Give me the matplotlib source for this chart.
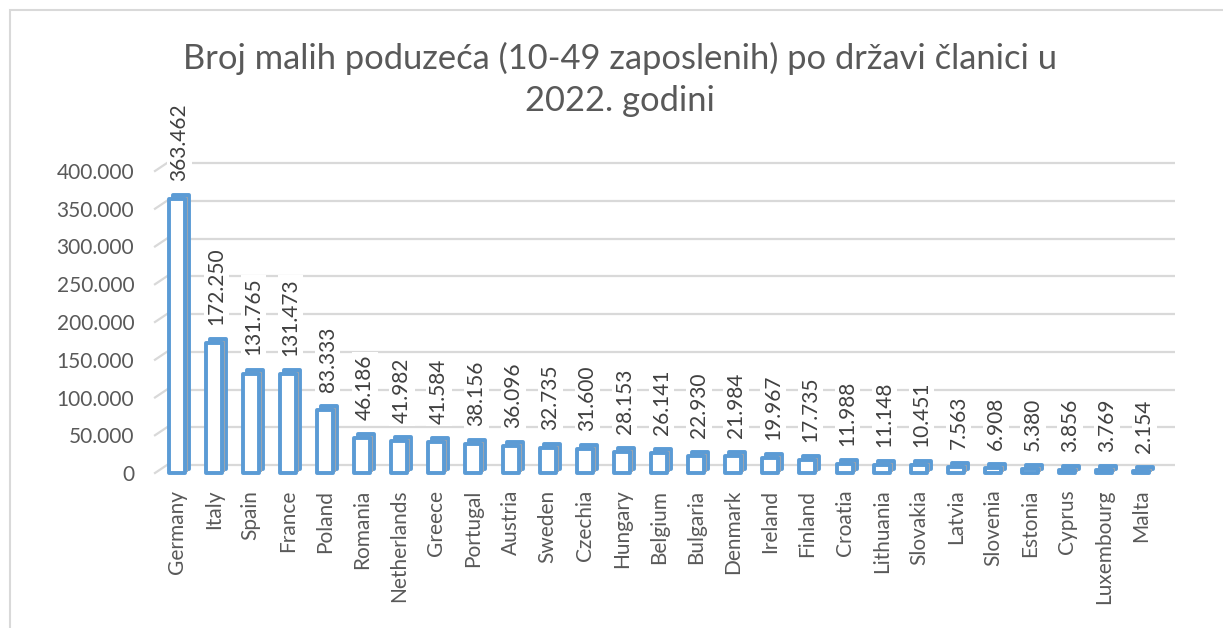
import matplotlib
matplotlib.use('Agg')
import matplotlib.pyplot as plt
from matplotlib.transforms import ScaledTranslation, IdentityTransform
from matplotlib.patches import Rectangle
from matplotlib.lines import Line2D

countries = ["Germany", "Italy", "Spain", "France", "Poland", "Romania", "Netherlands",
             "Greece", "Portugal", "Austria", "Sweden", "Czechia", "Hungary", "Belgium",
             "Bulgaria", "Denmark", "Ireland", "Finland", "Croatia", "Lithuania", "Slovakia",
             "Latvia", "Slovenia", "Estonia", "Cyprus", "Luxembourg", "Malta"]
values = [363462, 172250, 131765, 131473, 83333, 46186, 41982, 41584, 38156, 36096,
          32735, 31600, 28153, 26141, 22930, 21984, 19967, 17735, 11988, 11148, 10451,
          7563, 6908, 5380, 3856, 3769, 2154]
yticks = [0, 50000, 100000, 150000, 200000, 250000, 300000, 350000, 400000]
title = "Broj malih poduzeća (10-49 zaposlenih) po državi članici u\n2022. godini"

plt.rcParams['font.family'] = ['Lato', 'DejaVu Sans']

def fmt(v):
    return f"{v:,}".replace(",", ".")

W, H, DPI = 1223, 628, 100
fig = plt.figure(figsize=(W / DPI, H / DPI), dpi=DPI)
fig.patch.set_facecolor('white')

# outer chart border (extends past right/bottom edge as in the reference)
fig.patches.append(Rectangle((10 / W, -20 / H), 1240 / W, (H - 10 + 20) / H,
                             transform=fig.transFigure, fill=False,
                             edgecolor='#D9D9D9', linewidth=1.5))

def px(x0, y0, x1, y1):
    return [x0 / W, 1 - y1 / H, (x1 - x0) / W, (y1 - y0) / H]

ax = fig.add_axes(px(155, 171, 1163, 473))
ax.set_xlim(-0.58, len(countries) - 1 + 0.58)
ax.set_ylim(0, 400000)
for s in ax.spines.values():
    s.set_visible(False)
ax.patch.set_alpha(0)

# back-wall gridlines (3D offset)
back = ScaledTranslation(12 / DPI, 8 / DPI, fig.dpi_scale_trans)
ax.hlines(yticks, 0, 1, transform=ax.get_yaxis_transform() + back,
          color='#D9D9D9', linewidth=1.6, zorder=0, clip_on=False)
# slanted side-wall segments
for v in yticks:
    x0, y0 = ax.get_yaxis_transform().transform((0, v))
    ln = Line2D([x0, x0 + 12], [y0, y0 + 8], transform=IdentityTransform(),
                color='#D9D9D9', linewidth=1.6, zorder=0)
    fig.add_artist(ln)

x = list(range(len(countries)))
bw = 0.43
blue = '#5B9BD5'
depth = ScaledTranslation(4 / DPI, 4 / DPI, fig.dpi_scale_trans)
mid = ScaledTranslation(2 / DPI, 2 / DPI, fig.dpi_scale_trans)
ax.bar(x, values, width=bw, transform=ax.transData + depth,
       facecolor=blue, edgecolor=blue, linewidth=2.8, zorder=2,
       joinstyle='round', clip_on=False)
ax.bar(x, values, width=bw, transform=ax.transData + mid,
       facecolor='none', edgecolor='#9AA5B1', linewidth=0.8, zorder=2.5,
       clip_on=False)
ax.bar(x, values, width=bw, facecolor='white', edgecolor=blue,
       linewidth=2.8, zorder=3, joinstyle='round', clip_on=False)

for i, v in zip(x, values):
    ax.annotate(fmt(v), (i, v), xytext=(2, 13), textcoords='offset points',
                rotation=90, ha='center', va='bottom', fontsize=15,
                color='#404040', zorder=5, annotation_clip=False,
                bbox=dict(facecolor='white', edgecolor='none', pad=2))

ax.set_xticks(x, countries, rotation=90, fontsize=15, color='#595959')
ax.set_yticks(yticks, [fmt(v) for v in yticks], fontsize=15, color='#595959')
ax.tick_params(axis='x', length=0, pad=12)
ax.tick_params(axis='y', length=0, pad=15)

fig.text(620 / W, 1 - 42 / H, title, ha='center', va='top', fontsize=24.8,
         color='#595959', linespacing=1.38)

fig.savefig('out.png', dpi=DPI, facecolor='white')
